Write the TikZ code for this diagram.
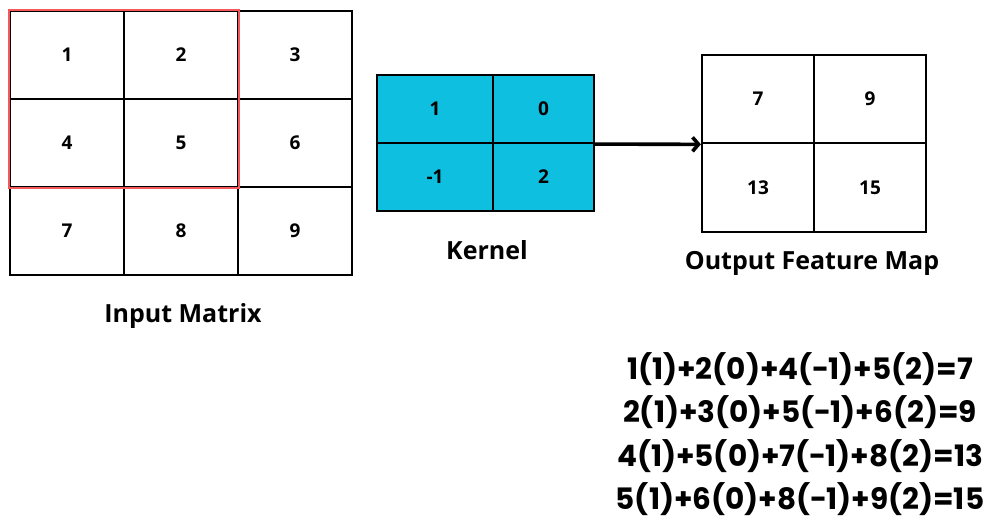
\documentclass[tikz,border=0pt]{standalone}
\usepackage{fontspec}
\setmainfont{Open Sans}
\newfontfamily\eqfont{Poppins}
\usepackage{xcolor}
\usetikzlibrary{arrows.meta}
\definecolor{kerncyan}{HTML}{0FBFDF}
\definecolor{winred}{HTML}{F5585A}

\begin{document}
\begin{tikzpicture}[x=1pt,y=-1pt,line width=2.2pt]
  \tikzstyle{incell}=[draw,minimum width=114pt,minimum height=88pt,inner sep=0pt,font=\fontsize{19}{22}\selectfont\bfseries]
  \tikzstyle{kcell}=[incell,fill=kerncyan,minimum height=68pt]
  \tikzstyle{ocell}=[incell,minimum width=112pt,minimum height=88.5pt]
  \tikzstyle{caption}=[font=\fontsize{25}{29}\selectfont\bfseries]
  \useasboundingbox (0,0) rectangle (992,521);
  % input matrix
  \foreach \name/\x/\y in {1/67/55,2/181/55,3/295/55,4/67/143,5/181/143,6/295/143,7/67/231,8/181/231,9/295/231}
    \node[incell] (I-\name) at (\x,\y) {\name};
  \draw[winred] (I-1.north west) rectangle (I-5.south east);
  \node[caption] (inlab) at (183,316) {Input Matrix};
  % kernel
  \foreach \name/\lab/\x/\w/\y in {1/1/435/116/109,2/0/543.5/101/109,3/-1/435/116/177,4/2/543.5/101/177}
    \node[kcell,minimum width=\w pt] (K-\name) at (\x,\y) {\lab};
  \node[caption] (klab) at (487,250) {Kernel};
  % output feature map
  \foreach \name/\lab/\x/\y in {1/7/758/99,2/9/870/99,3/13/758/187.5,4/15/870/187.5}
    \node[ocell] (O-\name) at (\x,\y) {\lab};
  \node[caption] (olab) at (812,263) {Output Feature Map};
  \draw[-{Straight Barb[length=6pt,width=14pt]},line width=3.6pt] (K-2.south east) -- (O-1.south west);
  % worked sums
  \node[align=center,inner sep=0pt,font=\eqfont\fontsize{29.5}{43.3}\selectfont\bfseries] (sums) at (800,434)
    {1(1)+2(0)+4(−1)+5(2)=7\\2(1)+3(0)+5(−1)+6(2)=9\\4(1)+5(0)+7(−1)+8(2)=13\\5(1)+6(0)+8(−1)+9(2)=15};
\end{tikzpicture}
\end{document}
